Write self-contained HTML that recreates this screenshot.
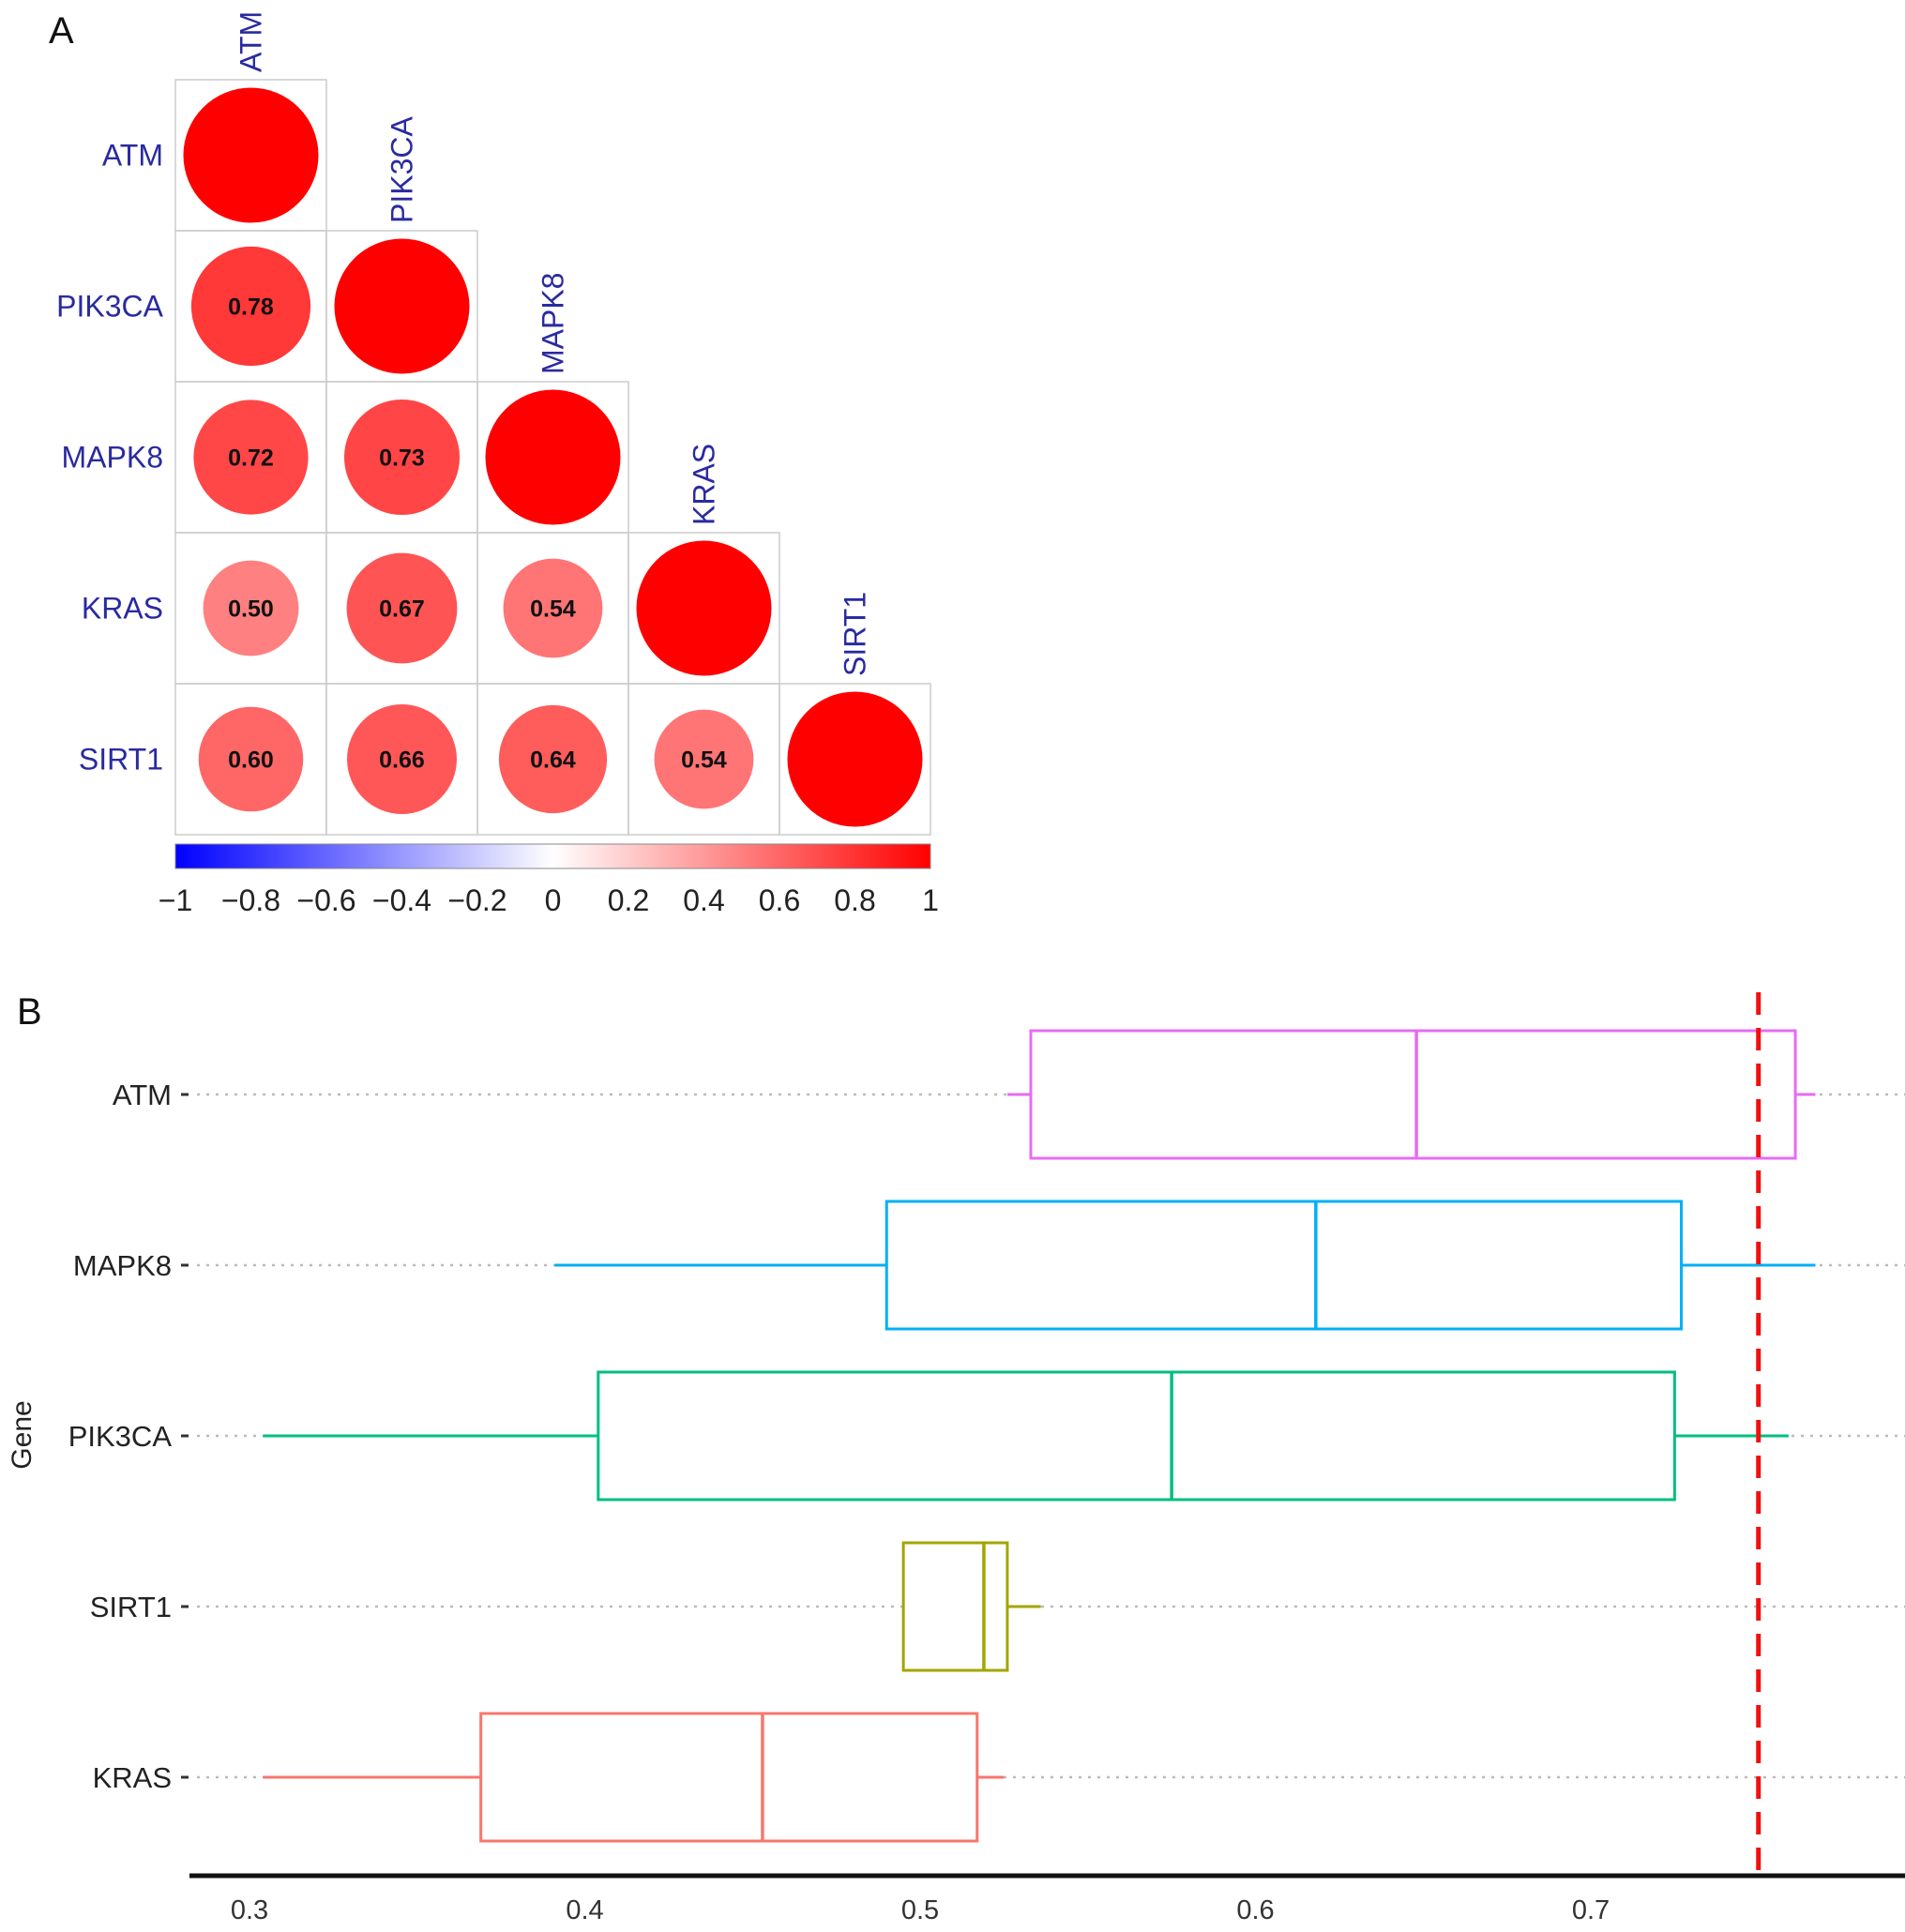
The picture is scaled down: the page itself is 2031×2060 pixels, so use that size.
<!DOCTYPE html>
<html><head><meta charset="utf-8"><style>
html,body{margin:0;padding:0;background:#fff;}
svg{display:block;font-family:"Liberation Sans",sans-serif;}
</style></head><body>
<svg id="chart" width="2031" height="2060" viewBox="0 0 2031 2060" xmlns="http://www.w3.org/2000/svg">
<defs>
<linearGradient id="cbar" x1="0" x2="1" y1="0" y2="0">
<stop offset="0" stop-color="#0000ff"/><stop offset="0.5" stop-color="#ffffff"/><stop offset="1" stop-color="#ff0000"/>
</linearGradient>
</defs>
<text x="52" y="46" font-size="40" fill="#111">A</text>
<text x="18" y="1092" font-size="40" fill="#111">B</text>
<g id="corr"></g>
<g id="cb">
<rect x="187" y="900" width="805" height="26" fill="url(#cbar)" stroke="#888" stroke-width="1"/>
</g>
<g id="box"></g>
</svg>
<script>
const NS="http://www.w3.org/2000/svg";
function mk(tag,attrs,parent){const e=document.createElementNS(NS,tag);for(const k in attrs)e.setAttribute(k,attrs[k]);parent.appendChild(e);return e;}
// ---- Panel A data ----
const genesA=["ATM","PIK3CA","MAPK8","KRAS","SIRT1"];
const corrRows=[[1],[0.78,1],[0.72,0.73,1],[0.50,0.67,0.54,1],[0.60,0.66,0.64,0.54,1]];
const cbTicks=[-1,-0.8,-0.6,-0.4,-0.2,0,0.2,0.4,0.6,0.8,1];
// ---- Panel B data ----
const genesB=["ATM","MAPK8","PIK3CA","SIRT1","KRAS"];
const boxColors=["#e76bf3","#00b0f6","#00bf7d","#a3a500","#f8766d"];
const wLow=[0.526,0.391,0.304,0.495,0.304];
const q1=[0.533,0.490,0.404,0.495,0.369];
const med=[0.648,0.618,0.575,0.519,0.453];
const q3=[0.761,0.727,0.725,0.526,0.517];
const wHigh=[0.767,0.767,0.759,0.536,0.525];
const threshold=0.75;
const xTicks=[0.3,0.4,0.5,0.6,0.7];

// Panel A
const gA=document.getElementById('corr');
const gx0=187,gy0=85,cell=161,cellH=161;
function colorFor(v){const t=Math.abs(v);const c=Math.round(255*(1-t));return v>=0?`rgb(255,${c},${c})`:`rgb(${c},${c},255)`;}
corrRows.forEach((row,i)=>{
  const lab=mk('text',{x:174,y:gy0+cellH*i+cellH/2+11,'font-size':32,fill:'#2a2aa0','text-anchor':'end'},gA);
  lab.textContent=genesA[i];
  
  
  const cl=mk('text',{'font-size':32,fill:'#2a2aa0','text-anchor':'start',transform:`translate(${gx0+cell*i+cell/2+11},${gy0+cellH*i-8}) rotate(-90)`},gA);
  cl.textContent=genesA[i];
  
  
  row.forEach((v,j)=>{
    const x=gx0+cell*j,y=gy0+cellH*i;
    const r=mk('rect',{x:x,y:y,width:cell,height:cellH,fill:'none',stroke:'#ccc','stroke-width':1.5},gA);
    
    
    const rad=72*Math.sqrt(Math.abs(v));
    const c=mk('circle',{cx:x+cell/2,cy:y+cellH/2,r:rad,fill:colorFor(v)},gA);
    
    
    if(i!==j){
      const t=mk('text',{x:x+cell/2,y:y+cellH/2+9,'font-size':25,'font-weight':'bold',fill:'#111','text-anchor':'middle'},gA);
      t.textContent=v.toFixed(2);
      
      
    }
  });
});
const gcb=document.getElementById('cb');
cbTicks.forEach(v=>{
  const x=187+(v+1)/2*805;
  const t=mk('text',{x:x,y:971,'font-size':32,fill:'#222','text-anchor':'middle'},gcb);
  t.textContent=(v<0?'\u2212':'')+String(Math.abs(v));
  
  
});

// Panel B
const gB=document.getElementById('box');
const X=v=>266+(v-0.3)*3575;
const rowY=[1167,1349,1531,1713,1895];
const hh=68;
genesB.forEach((g,i)=>{
  const y=rowY[i],col=boxColors[i];
  const dl=mk('line',{x1:210,x2:2031,y1:y,y2:y,stroke:'#bbb','stroke-width':2.5,'stroke-dasharray':'3 7'},gB);
  
  
  const tk=mk('line',{x1:193,x2:201,y1:y,y2:y,stroke:'#333','stroke-width':3},gB);
  
  
  const lb=mk('text',{x:183,y:y+11,'font-size':31,fill:'#222','text-anchor':'end'},gB);
  lb.textContent=g;
  
  
  const w1=mk('line',{x1:X(wLow[i]),x2:X(q1[i]),y1:y,y2:y,stroke:col,'stroke-width':3},gB);
  
  
  const w2=mk('line',{x1:X(q3[i]),x2:X(wHigh[i]),y1:y,y2:y,stroke:col,'stroke-width':3},gB);
  
  
  const bx=mk('rect',{x:X(q1[i]),y:y-hh,width:X(q3[i])-X(q1[i]),height:2*hh,fill:'#fff',stroke:col,'stroke-width':3},gB);
  
  
  const m=mk('line',{x1:X(med[i]),x2:X(med[i]),y1:y-hh,y2:y+hh,stroke:col,'stroke-width':3.5},gB);
  
  
});
const th=mk('line',{x1:X(threshold),x2:X(threshold),y1:1058,y2:2000,stroke:'#ee1111','stroke-width':5,'stroke-dasharray':'24 14'},gB);


const ax=mk('line',{x1:202,x2:2031,y1:2000,y2:2000,stroke:'#111','stroke-width':5},gB);


xTicks.forEach(v=>{
  const t=mk('text',{x:X(v),y:2046,'font-size':29,fill:'#333','text-anchor':'middle'},gB);
  t.textContent=v.toFixed(1);
  
  
});
const gt=mk('text',{'font-size':30,fill:'#222','text-anchor':'middle',transform:'translate(33,1530) rotate(-90)'},gB);
gt.textContent='Gene';


</script>
</body></html>
